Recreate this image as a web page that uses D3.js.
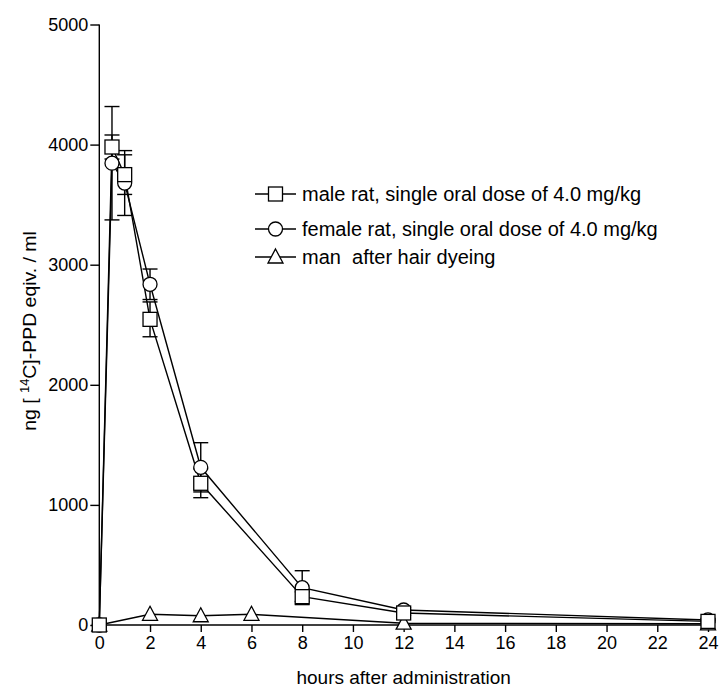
<!DOCTYPE html>
<html>
<head>
<meta charset="utf-8">
<script src="https://cdn.jsdelivr.net/npm/d3@7"></script>
<style>
  body { margin: 0; background: #fff; }
  svg text { font-family: Arial, "Liberation Sans", sans-serif; fill: #000; }
</style>
</head>
<body>
<div id="chart"></div>
<script>
// hours after administration
var ratHours = [0, 0.5, 1, 2, 4, 8, 12, 24];
var manHours = [0, 2, 4, 6, 12, 24];

// ng [14C]-PPD eqiv. / ml
var maleRat = [0, 3980, 3750, 2545, 1180, 236, 100, 30];
var maleRatErr = [0, 100, 165, 145, 120, 40, 20, 10];
var femaleRat = [0, 3845, 3680, 2837, 1313, 311, 125, 42];
var femaleRatErr = [0, 472, 270, 127, 205, 141, 20, 10];
var man = [0, 89, 77, 89, 15, 10];

var xTicks = [0, 2, 4, 6, 8, 10, 12, 14, 16, 18, 20, 22, 24];
var yTicks = [0, 1000, 2000, 3000, 4000, 5000];

var legendLabels = [
  "male rat, single oral dose of 4.0 mg/kg",
  "female rat, single oral dose of 4.0 mg/kg",
  "man  after hair dyeing"
];

var width = 720, height = 688;
var margin = {top: 24.5, right: 12, bottom: 63, left: 99.3};

var svg = d3.select("#chart").append("svg")
    .attr("width", width)
    .attr("height", height);

var x = d3.scaleLinear().domain([0, 24]).range([margin.left, width - margin.right]);
var y = d3.scaleLinear().domain([0, 5000]).range([height - margin.bottom, margin.top]);

// axes
var xAxis = svg.append("g")
    .attr("transform", "translate(0," + y(0) + ")")
    .call(d3.axisBottom(x).tickValues(xTicks).tickSize(7).tickPadding(4).tickFormat(d3.format("d")));
var yAxis = svg.append("g")
    .attr("transform", "translate(" + x(0) + ",0)")
    .call(d3.axisLeft(y).tickValues(yTicks).tickSize(9).tickPadding(2).tickFormat(d3.format("d")));

[xAxis, yAxis].forEach(function(g) {
  g.select(".domain").attr("stroke", "#000").attr("stroke-width", 1.4);
  g.selectAll(".tick line").attr("stroke", "#000").attr("stroke-width", 1.4);
  g.selectAll(".tick text").style("font-size", "18px").attr("fill", "#000");
});
// no outer ticks on the axis lines
xAxis.select(".domain").attr("d", "M" + x(0) + ",0H" + x(24));
yAxis.select(".domain").attr("d", "M0," + y(0) + "V" + y(5000));

// axis titles
svg.append("text")
    .attr("x", (x(0) + x(24)) / 2)
    .attr("y", 684)
    .attr("text-anchor", "middle")
    .style("font-size", "19px")
    .text("hours after administration");

var yl = svg.append("text")
    .attr("transform", "translate(36,331) rotate(-90) scale(1.08,1)")
    .attr("text-anchor", "middle")
    .style("font-size", "18px");
yl.append("tspan").text("ng [ ");
yl.append("tspan").attr("dy", -7).style("font-size", "12px").text("14");
yl.append("tspan").attr("dy", 7).text("C]-PPD eqiv. / ml");

// lines
var line = d3.line().x(function(d) { return x(d[0]); }).y(function(d) { return y(d[1]); });

function pairs(xs, ys) { return xs.map(function(t, i) { return [t, ys[i]]; }); }

var series = [
  {name: "man", xs: manHours, ys: man, err: null, shape: "triangle"},
  {name: "female", xs: ratHours, ys: femaleRat, err: femaleRatErr, shape: "circle"},
  {name: "male", xs: ratHours, ys: maleRat, err: maleRatErr, shape: "square"}
];

series.forEach(function(s) {
  svg.append("path")
      .datum(pairs(s.xs, s.ys))
      .attr("d", line)
      .attr("fill", "none")
      .attr("stroke", "#000")
      .attr("stroke-width", 1.4);
});

// error bars
series.forEach(function(s) {
  if (!s.err) return;
  var eb = svg.append("g").attr("stroke", "#000").attr("stroke-width", 1.4);
  s.xs.forEach(function(t, i) {
    if (!s.err[i]) return;
    var cx = x(t), lo = y(s.ys[i] - s.err[i]), hi = y(s.ys[i] + s.err[i]);
    eb.append("line").attr("x1", cx).attr("x2", cx).attr("y1", lo).attr("y2", hi);
    eb.append("line").attr("x1", cx - 7.5).attr("x2", cx + 7.5).attr("y1", hi).attr("y2", hi);
    eb.append("line").attr("x1", cx - 7.5).attr("x2", cx + 7.5).attr("y1", lo).attr("y2", lo);
  });
});

function drawMarker(g, shape, cx, cy) {
  var m;
  if (shape === "square") {
    m = g.append("rect").attr("x", cx - 7).attr("y", cy - 7).attr("width", 14).attr("height", 14);
  } else if (shape === "circle") {
    m = g.append("circle").attr("cx", cx).attr("cy", cy).attr("r", 7);
  } else {
    m = g.append("path").attr("d", "M" + cx + "," + (cy - 8) + "L" + (cx + 7.5) + "," + (cy + 6) + "L" + (cx - 7.5) + "," + (cy + 6) + "Z");
  }
  m.attr("fill", "#fff").attr("stroke", "#000").attr("stroke-width", 1.3);
}

// markers
series.forEach(function(s) {
  var g = svg.append("g");
  s.xs.forEach(function(t, i) { drawMarker(g, s.shape, x(t), y(s.ys[i])); });
});

// legend
var legendRows = [194, 229, 257];
var legendShapes = ["square", "circle", "triangle"];
legendLabels.forEach(function(lbl, i) {
  var g = svg.append("g");
  var ly = legendRows[i];
  g.append("line").attr("x1", 255).attr("x2", 296).attr("y1", ly).attr("y2", ly)
      .attr("stroke", "#000").attr("stroke-width", 1.4);
  drawMarker(g, legendShapes[i], 275.5, ly);
  g.append("text").attr("x", 302).attr("y", ly + 7)
      .style("font-size", "20px").style("white-space", "pre").text(lbl);
});
</script>
</body>
</html>
